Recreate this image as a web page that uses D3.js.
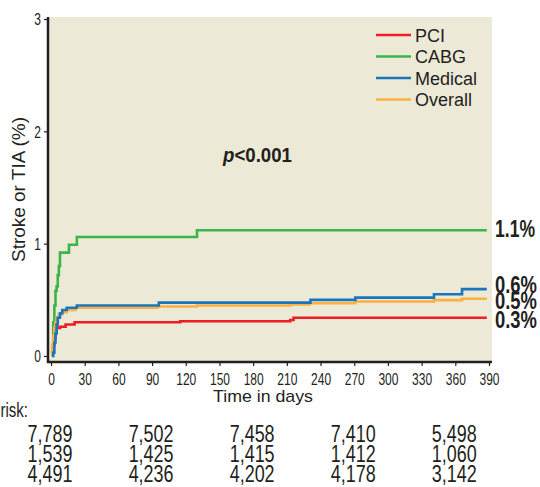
<!DOCTYPE html>
<html>
<head>
<meta charset="utf-8">
<script src="https://cdn.jsdelivr.net/npm/d3@7"></script>
<style>
  body { margin: 0; background: #fff; }
  svg { display: block; }
  text { font-family: "Liberation Sans", Arial, sans-serif; fill: #231f20; }
</style>
</head>
<body>
<div id="chart"></div>
<script>
// step curves: [day, cumulative %]
const pci = [[0,0.04],[2,0.1],[3,0.17],[4,0.22],[5,0.25],[8,0.26],[13,0.28],[21,0.30],[115,0.31],[213,0.32],[216,0.34],[388,0.34]];
const cabg = [[1,0],[1.5,0.1],[2,0.3],[3,0.45],[4,0.58],[5,0.62],[6,0.72],[7,0.8],[8,0.92],[16,0.99],[23,1.06],[130,1.12],[388,1.12]];
const medical = [[1,0],[2,0.03],[3,0.12],[4,0.2],[5,0.28],[6,0.34],[8,0.38],[10,0.41],[14,0.43],[23,0.45],[96,0.475],[231,0.5],[271,0.52],[341,0.55],[366,0.595],[388,0.595]];
const overall = [[0,0.02],[1,0.1],[2,0.18],[3,0.25],[4,0.3],[5,0.34],[7,0.37],[10,0.39],[14,0.41],[22,0.43],[95,0.44],[130,0.45],[213,0.46],[230,0.47],[271,0.485],[341,0.497],[366,0.51],[388,0.51]];

const seriesNames = ["PCI", "CABG", "Medical", "Overall"];
const seriesColors = ["#ee1c25", "#3ab54a", "#1b75bc", "#fbb040"];
const endLabels = ["0.3%", "1.1%", "0.6%", "0.5%"];

const xTicks = d3.range(0, 391, 30);
const yTicks = [0, 1, 2, 3];

const riskDays = [0, 90, 180, 270, 360];
const riskPci = ["7,789", "7,502", "7,458", "7,410", "5,498"];
const riskCabg = ["1,539", "1,425", "1,415", "1,412", "1,060"];
const riskMedical = ["4,491", "4,236", "4,202", "4,178", "3,142"];

const W = 540, H = 487;
const svg = d3.select("#chart").append("svg").attr("width", W).attr("height", H);

const x = d3.scaleLinear().domain([0, 390]).range([51, 489]);
const y = d3.scaleLinear().domain([0, 3]).range([356, 19]);

// squeeze text to look like the condensed face of the original
function condense(sel, k) {
  sel.each(function() {
    const len = this.getComputedTextLength();
    d3.select(this).attr("textLength", len * k).attr("lengthAdjust", "spacingAndGlyphs");
  });
}

// plot panel
const pLeft = 48, pRight = 492, pTop = 17, pBottom = 362;
svg.append("rect")
  .attr("x", pLeft).attr("y", pTop)
  .attr("width", pRight - pLeft).attr("height", pBottom - pTop)
  .attr("fill", "#ece9d6");

// curves
const line = d3.line().x(d => x(d[0])).y(d => y(d[1])).curve(d3.curveStepAfter);
const curves = [pci, cabg, medical, overall];
[1, 0, 3, 2].forEach(i => {
  svg.append("path")
    .datum(curves[i])
    .attr("d", line)
    .attr("fill", "none")
    .attr("stroke", seriesColors[i])
    .attr("stroke-width", 2.6);
});

// axes
const yAxis = svg.append("g")
  .attr("transform", `translate(${pLeft},0)`)
  .call(d3.axisLeft(y).tickValues(yTicks).tickSize(4).tickFormat(d3.format("d")));
yAxis.select(".domain").remove();
yAxis.selectAll("text").style("font-size", "16px").attr("x", -7).attr("dy", "0.36em");
yAxis.selectAll("line").attr("stroke", "#231f20").attr("stroke-width", 1.2);
condense(yAxis.selectAll("text"), 0.75);

const xAxis = svg.append("g")
  .attr("transform", `translate(0,${pBottom})`)
  .call(d3.axisBottom(x).tickValues(xTicks).tickSize(4).tickFormat(d3.format("d")));
xAxis.select(".domain").remove();
xAxis.selectAll("text").style("font-size", "16px").attr("y", 23).attr("dy", null);
xAxis.selectAll("line").attr("stroke", "#231f20").attr("stroke-width", 1.2);
condense(xAxis.selectAll("text"), 0.75);

svg.append("line").attr("x1", pLeft).attr("x2", pLeft).attr("y1", pTop).attr("y2", pBottom + 1)
  .attr("stroke", "#231f20").attr("stroke-width", 2.5);
svg.append("line").attr("x1", pLeft - 1).attr("x2", pRight).attr("y1", pBottom).attr("y2", pBottom)
  .attr("stroke", "#231f20").attr("stroke-width", 2.5);

// axis titles
svg.append("text")
  .attr("transform", "translate(25,189.5) rotate(-90)")
  .attr("text-anchor", "middle")
  .style("font-size", "18px")
  .attr("textLength", 145).attr("lengthAdjust", "spacingAndGlyphs")
  .text("Stroke or TIA (%)");

svg.append("text")
  .attr("x", 263).attr("y", 402)
  .attr("text-anchor", "middle")
  .style("font-size", "17px")
  .attr("textLength", 100).attr("lengthAdjust", "spacingAndGlyphs")
  .text("Time in days");

// p value
const p = svg.append("text")
  .attr("x", 223).attr("y", 162)
  .style("font-size", "20px").style("font-weight", "bold")
  .attr("textLength", 69).attr("lengthAdjust", "spacingAndGlyphs");
p.append("tspan").style("font-style", "italic").text("p");
p.append("tspan").text("<0.001");

// legend
const legend = svg.append("g").attr("transform", "translate(376,35)");
seriesNames.forEach((name, i) => {
  const g = legend.append("g").attr("transform", `translate(0,${i * 21.5})`);
  g.append("line").attr("x1", 0).attr("x2", 35).attr("y1", 0).attr("y2", 0)
    .attr("stroke", seriesColors[i]).attr("stroke-width", 2.6);
  g.append("text").attr("x", 39).attr("y", 6.5).style("font-size", "18px").text(name);
});

// end labels
const endBase = [328, 237, 293, 309];
endLabels.forEach((t, i) => {
  svg.append("text")
    .attr("x", 495).attr("y", endBase[i])
    .style("font-size", "23px").style("font-weight", "bold")
    .attr("textLength", i === 1 ? 40 : 42).attr("lengthAdjust", "spacingAndGlyphs")
    .text(t);
});

// number at risk
const riskLabel = svg.append("text")
  .attr("x", 28).attr("y", 417)
  .attr("text-anchor", "end")
  .style("font-size", "20px")
  .text("No. at risk:");
condense(riskLabel, 0.75);

[riskPci, riskCabg, riskMedical].forEach((row, r) => {
  row.forEach((v, c) => {
    const t = svg.append("text")
      .attr("x", x(riskDays[c]) - 1).attr("y", 442 + r * 20)
      .attr("text-anchor", "middle")
      .style("font-size", "23px")
      .text(v);
    condense(t, 0.78);
  });
});
</script>
</body>
</html>
